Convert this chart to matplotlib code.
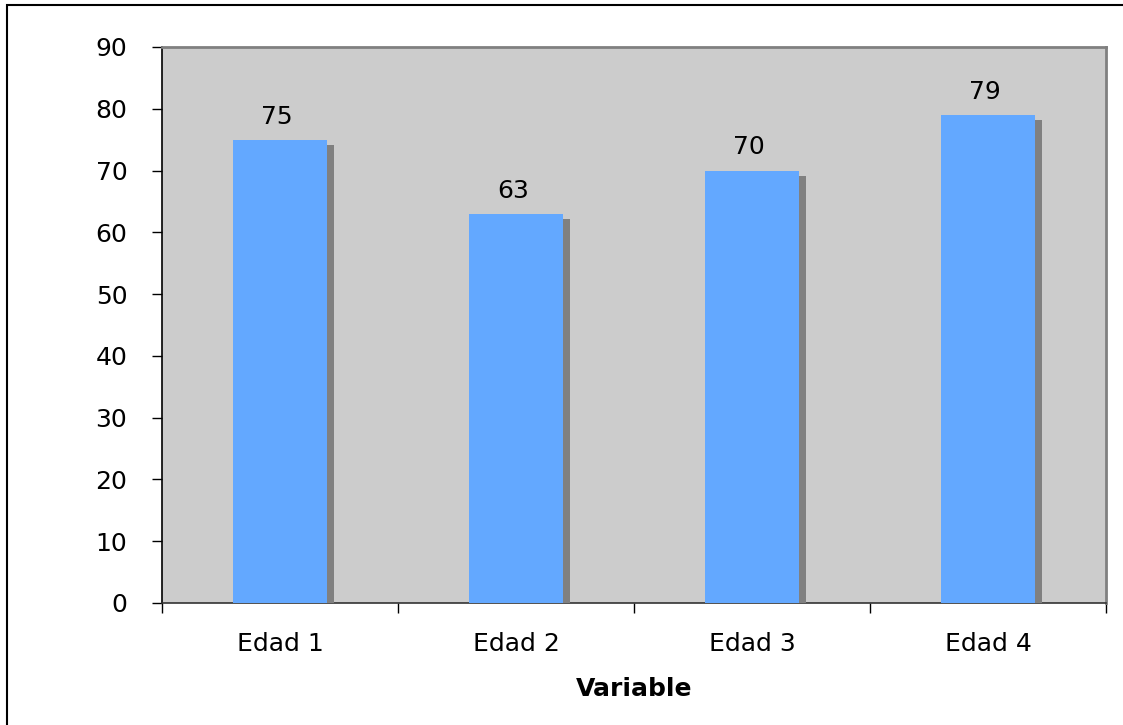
import matplotlib
matplotlib.use("Agg")
import matplotlib.pyplot as plt
import matplotlib.patheffects as pe
from matplotlib.patches import Rectangle
from matplotlib.ticker import FixedLocator, NullFormatter

categories = ["Edad 1", "Edad 2", "Edad 3", "Edad 4"]
values = [75, 63, 70, 79]
y_ticks = [0, 10, 20, 30, 40, 50, 60, 70, 80, 90]
x_title = "Variable"

bar_color = "#63A8FF"
shadow_color = "#808080"
plot_bg = "#CCCCCC"
font_size = 18

plt.rcParams["font.family"] = ["DejaVu Sans"]

fig = plt.figure(figsize=(11.23, 7.25), dpi=100)
ax = fig.add_axes([162 / 1123, 1 - 603 / 725, (1106 - 162) / 1123, (603 - 47) / 725])
ax.set_facecolor(plot_bg)

x = list(range(len(categories)))
bars = ax.bar(x, values, width=0.40, color=bar_color, zorder=3)
for b in bars:
    b.set_path_effects([
        pe.SimplePatchShadow(offset=(5.0, -3.6), shadow_rgbFace=shadow_color, alpha=1.0),
        pe.Normal(),
    ])

for xi, v in zip(x, values):
    ax.annotate(f"{v}", (xi, v), xytext=(-2, 8), textcoords="offset points",
                ha="center", va="bottom", fontsize=font_size, color="black", zorder=4)

ax.set_xlim(-0.5, len(categories) - 0.5)
ax.set_ylim(0, 90)
ax.set_yticks(y_ticks)
ax.tick_params(axis="y", direction="out", length=7, width=1, labelsize=font_size,
               pad=18, colors="black")

# category boundaries carry the tick marks; names sit between them
ax.xaxis.set_major_locator(FixedLocator([i - 0.5 for i in range(len(categories) + 1)]))
ax.xaxis.set_major_formatter(NullFormatter())
ax.xaxis.set_minor_locator(FixedLocator(x))
ax.set_xticklabels(categories, minor=True)
ax.tick_params(axis="x", which="major", direction="out", length=7, width=1, color="black")
ax.tick_params(axis="x", which="minor", length=0, labelsize=font_size, pad=21)

ax.set_xlabel(x_title, fontsize=font_size, fontweight="bold", labelpad=15)

ax.spines["left"].set_color("black")
ax.spines["left"].set_linewidth(1.2)
ax.spines["bottom"].set_color("#333333")
ax.spines["bottom"].set_linewidth(1.2)
for s in ("top", "right"):
    ax.spines[s].set_color("#808080")
    ax.spines[s].set_linewidth(2)

# outer frame around the whole chart
fig.patches.append(Rectangle((7 / 1123, -0.05), 1.2, 1 - 5 / 725 + 0.05,
                             transform=fig.transFigure, fill=False,
                             edgecolor="black", linewidth=1.5))

fig.savefig("out.png", dpi=100, facecolor="white")
